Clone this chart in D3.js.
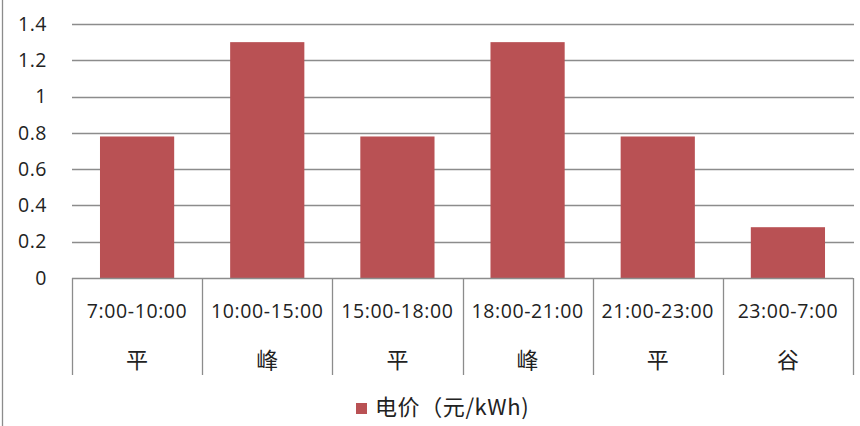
<!DOCTYPE html>
<html>
<head>
<meta charset="utf-8">
<script src="https://cdn.jsdelivr.net/npm/d3@7"></script>
<style>
  body { margin: 0; background: #fff; }
  text { font-family: "Open Sans", "Noto Sans CJK SC", sans-serif; fill: #222; }
  .grid-line { stroke: #8c8c8c; stroke-width: 1.3; }
  .table-line { stroke: #8c8c8c; stroke-width: 1.3; }
</style>
</head>
<body>
<script>
const periods = ["7:00-10:00", "10:00-15:00", "15:00-18:00", "18:00-21:00", "21:00-23:00", "23:00-7:00"];
const tiers = ["平", "峰", "平", "峰", "平", "谷"];
const prices = [0.78, 1.3, 0.78, 1.3, 0.78, 0.28];
const yTicks = [0, 0.2, 0.4, 0.6, 0.8, 1, 1.2, 1.4];
const seriesName = "电价（元/kWh)";

const width = 860, height = 426;
const margin = { top: 24, right: 7, bottom: 148, left: 72 };
const barColor = "#b95154";

const svg = d3.select("body").append("svg").attr("width", width).attr("height", height);

// outer frame (left edge only visible)
svg.append("line").attr("class", "table-line")
  .attr("x1", 2.5).attr("x2", 2.5).attr("y1", 0).attr("y2", height);

const xScale = d3.scaleBand()
  .domain(periods)
  .range([margin.left, width - margin.right])
  .paddingInner(0.43)
  .paddingOuter(0.215);

const xBand = d3.scaleBand().domain(periods).range([margin.left, width - margin.right]);

const yScale = d3.scaleLinear()
  .domain([0, 1.4])
  .range([height - margin.bottom, margin.top]);

// grid
svg.append("g")
  .selectAll("line")
  .data(yTicks.filter(d => d > 0))
  .join("line")
  .attr("class", "grid-line")
  .attr("x1", margin.left).attr("x2", width - margin.right + 1)
  .attr("y1", d => Math.round(yScale(d)) + 0.5).attr("y2", d => Math.round(yScale(d)) + 0.5);

// y labels
const yAxis = d3.axisLeft(yScale).tickValues(yTicks).tickSize(0).tickPadding(25).tickFormat(d => d3.format("")(d));
svg.append("g")
  .attr("transform", `translate(${margin.left},0)`)
  .call(yAxis)
  .call(g => g.select(".domain").remove())
  .call(g => g.selectAll("text")
    .style("font-size", "19.5px")
    .style("font-family", "'Open Sans', sans-serif")
    .style("letter-spacing", "0.5px")
    .attr("fill", "#222"));

// bars
svg.append("g")
  .selectAll("rect")
  .data(prices)
  .join("rect")
  .attr("x", (d, i) => xScale(periods[i]))
  .attr("width", xScale.bandwidth())
  .attr("y", d => yScale(d))
  .attr("height", d => yScale(0) - yScale(d))
  .attr("fill", barColor);

// category table
const y0 = yScale(0);
const tableBottom = 375;
svg.append("line").attr("class", "table-line")
  .attr("x1", margin.left).attr("x2", width - margin.right)
  .attr("y1", Math.round(y0) + 0.5).attr("y2", Math.round(y0) + 0.5);

const dividers = periods.map(p => xBand(p)).concat([width - margin.right]);
svg.append("g")
  .selectAll("line")
  .data(dividers)
  .join("line")
  .attr("class", "table-line")
  .attr("x1", d => Math.round(d) + 0.5).attr("x2", d => Math.round(d) + 0.5)
  .attr("y1", y0).attr("y2", tableBottom);

svg.append("g")
  .selectAll("text")
  .data(periods)
  .join("text")
  .attr("x", d => xBand(d) + xBand.bandwidth() / 2)
  .attr("y", 318)
  .attr("text-anchor", "middle")
  .style("font-size", "19.5px")
  .style("letter-spacing", "0.6px")
  .text(d => d);

svg.append("g")
  .selectAll("text")
  .data(tiers)
  .join("text")
  .attr("x", (d, i) => xBand(periods[i]) + xBand.bandwidth() / 2)
  .attr("y", 368)
  .attr("text-anchor", "middle")
  .style("font-size", "22px")
  .style("font-family", "'Noto Sans CJK SC', sans-serif")
  .text(d => d);

// legend
const legend = svg.append("g").attr("transform", "translate(356,403)");
legend.append("rect").attr("width", 11).attr("height", 11).attr("fill", barColor);
legend.append("text")
  .attr("x", 19).attr("y", 12)
  .style("font-size", "22px")
  .style("letter-spacing", "0.6px")
  .style("font-family", "'Noto Sans CJK SC', sans-serif")
  .text(seriesName);
</script>
</body>
</html>
